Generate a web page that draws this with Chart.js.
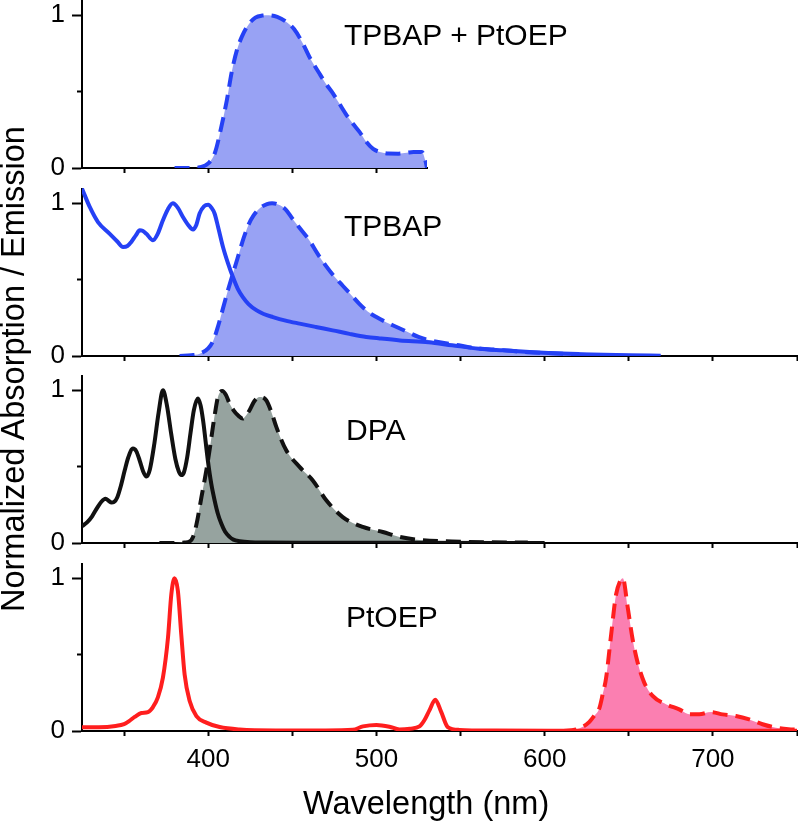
<!DOCTYPE html>
<html>
<head>
<meta charset="utf-8">
<script src="https://cdn.jsdelivr.net/npm/chart.js@4"></script>
<style>
  body { margin: 0; width: 798px; height: 821px; position: relative; background: #fff; overflow: hidden;
         font-family: "Liberation Sans", Arial, sans-serif; }
  canvas { position: absolute; left: 0; }
  .label { position: absolute; font-size: 30px; line-height: 30px; color: #000; white-space: nowrap; }
  .axis-title { position: absolute; font-size: 32.5px; line-height: 32.5px; color: #000; white-space: nowrap; }
</style>
</head>
<body>
<canvas id="mixChart" width="428" height="188" style="top:0"></canvas>
<canvas id="tpbapChart" width="798" height="188" style="top:188px"></canvas>
<canvas id="dpaChart" width="798" height="188" style="top:375px"></canvas>
<canvas id="ptoepChart" width="798" height="258" style="top:563px"></canvas>

<div class="label" style="left:344px;top:20px">TPBAP + PtOEP</div>
<div class="label" style="left:344px;top:211px">TPBAP</div>
<div class="label" style="left:346px;top:415px">DPA</div>
<div class="label" style="left:346px;top:602px">PtOEP</div>
<div class="axis-title" style="left:303px;top:787px">Wavelength (nm)</div>
<div class="axis-title" style="left:-3px;top:612px;transform-origin:0 0;transform:rotate(-90deg)">Normalized Absorption / Emission</div>

<script>
// Tick marks / labels
const xTickValues = [350, 400, 450, 500, 550, 600, 650, 700, 750];
const xTickLabels = ["", "400", "", "500", "", "600", "", "700", ""];
const yTickValues = [0, 1];
const yTickLabels = ["0", "1"];
const yMinorTicks = [0.5];

// TPBAP + PtOEP (upconverted emission)
const mixEmWl = [380, 390, 395, 400, 404, 408, 411, 414, 417, 420, 424, 428, 432, 436, 441, 446, 451, 456, 460, 466, 470, 474, 478, 482, 486, 490, 494, 498, 502, 507, 513, 518, 522, 527, 529, 530];
const mixEmVal = [0, 0, 0.005, 0.03, 0.1, 0.28, 0.44, 0.63, 0.77, 0.86, 0.94, 0.985, 0.998, 1.0, 0.99, 0.96, 0.91, 0.82, 0.73, 0.62, 0.55, 0.49, 0.42, 0.35, 0.29, 0.235, 0.17, 0.125, 0.105, 0.095, 0.094, 0.1, 0.105, 0.105, 0.05, 0];

// TPBAP
const tpbapAbsWl = [325, 329.6, 334.5, 341.5, 346, 349.4, 352, 354.3, 357, 359.3, 361, 363.3, 367.2, 370, 373.1, 376, 379, 382, 385, 388, 391, 393, 394.9, 397.5, 400, 402, 403.8, 406, 408.8, 411.7, 414.7, 417.6, 420.6, 424, 428.6, 433, 438.5, 446, 454.3, 464, 474, 484, 494, 502, 514, 531, 545, 561, 575, 591, 605, 621, 635, 650, 669];
const tpbapAbsVal = [1.096, 0.976, 0.877, 0.8, 0.75, 0.714, 0.72, 0.747, 0.79, 0.823, 0.82, 0.8, 0.758, 0.8, 0.889, 0.96, 1.0, 0.97, 0.91, 0.86, 0.828, 0.86, 0.933, 0.98, 0.99, 0.97, 0.933, 0.84, 0.714, 0.61, 0.517, 0.44, 0.386, 0.34, 0.3, 0.275, 0.255, 0.232, 0.212, 0.19, 0.168, 0.145, 0.125, 0.115, 0.102, 0.09, 0.07, 0.048, 0.037, 0.026, 0.018, 0.012, 0.008, 0.005, 0.002];
const tpbapEmWl = [383, 390, 395, 400, 403, 406, 409, 412, 415, 418, 421, 424, 427, 431, 435, 438, 442, 446, 450, 455, 460, 465, 470, 475, 480, 485, 490, 495, 500, 506, 512, 518, 525, 535, 549, 560, 573, 590, 601, 615, 630, 652];
const tpbapEmVal = [0, 0.005, 0.015, 0.05, 0.1, 0.2, 0.32, 0.44, 0.55, 0.66, 0.77, 0.86, 0.92, 0.97, 0.995, 1.0, 0.99, 0.96, 0.9, 0.83, 0.76, 0.67, 0.59, 0.52, 0.46, 0.4, 0.34, 0.29, 0.255, 0.22, 0.19, 0.16, 0.125, 0.095, 0.07, 0.05, 0.04, 0.025, 0.02, 0.012, 0.005, 0];

// DPA
const dpaAbsWl = [325, 328, 331, 334, 336.5, 339, 341, 342.5, 344, 346, 348, 350.4, 352.5, 355.3, 357.3, 359.3, 361.3, 363.3, 365.3, 368, 370.5, 373.1, 375.5, 378, 380.5, 382.5, 384, 385.5, 387.5, 389.5, 391.5, 393.9, 395.5, 397, 399.8, 401.8, 403.8, 405.8, 407.8, 410, 412.7, 415, 418.7, 425, 434, 460, 520, 600];
const dpaAbsVal = [0.11, 0.135, 0.175, 0.23, 0.27, 0.29, 0.275, 0.265, 0.268, 0.3, 0.37, 0.476, 0.56, 0.618, 0.6, 0.54, 0.47, 0.435, 0.48, 0.65, 0.85, 1.0, 0.9, 0.716, 0.55, 0.47, 0.445, 0.46, 0.56, 0.72, 0.87, 0.946, 0.9, 0.8, 0.541, 0.39, 0.28, 0.19, 0.127, 0.075, 0.04, 0.022, 0.012, 0.005, 0.003, 0.002, 0.001, 0];
const dpaEmWl = [371, 380, 386, 389, 391, 393, 396, 398.9, 401, 402.8, 404.5, 405.8, 408.4, 410.5, 412.7, 415, 417.7, 420.6, 422.5, 424.6, 427.5, 430.5, 434.5, 437.5, 440.5, 446.4, 454.3, 462.2, 470.2, 480, 491.9, 503.8, 513.7, 525.6, 545, 565, 590];
const dpaEmVal = [0, 0, 0.003, 0.01, 0.04, 0.12, 0.3, 0.476, 0.62, 0.76, 0.88, 0.956, 0.995, 0.97, 0.913, 0.87, 0.836, 0.815, 0.835, 0.869, 0.93, 0.956, 0.935, 0.86, 0.76, 0.607, 0.498, 0.41, 0.28, 0.17, 0.105, 0.072, 0.04, 0.02, 0.01, 0.005, 0.003];

// PtOEP
const ptAbsWl = [325, 335, 345, 350, 353, 356.3, 360.3, 364.2, 367.2, 370.1, 373.1, 376.1, 378.1, 380, 382, 384, 386, 389, 393, 398.9, 406.8, 418.7, 440, 470, 486, 492, 500, 507.8, 513.7, 520, 525.6, 528.5, 531.5, 535, 538.5, 542.4, 549.4, 570, 620, 680, 750];
const ptAbsVal = [0.025, 0.025, 0.033, 0.045, 0.065, 0.092, 0.118, 0.124, 0.157, 0.22, 0.35, 0.61, 0.895, 1.0, 0.917, 0.633, 0.37, 0.196, 0.098, 0.055, 0.026, 0.01, 0.004, 0.004, 0.008, 0.03, 0.04, 0.028, 0.01, 0.015, 0.03, 0.07, 0.135, 0.205, 0.125, 0.026, 0.007, 0.003, 0.002, 0.002, 0.002];
const ptEmWl = [610, 618.7, 623, 626.6, 629.5, 632.5, 634.5, 636.5, 639.5, 642.4, 644.8, 646.5, 649.3, 652.3, 655.3, 659.2, 664.2, 672.1, 680, 686, 691.9, 698.9, 705.8, 713.7, 721.6, 729.5, 737.5, 745, 750];
const ptEmVal = [0, 0.01, 0.03, 0.06, 0.1, 0.148, 0.24, 0.345, 0.629, 0.891, 0.98, 1.0, 0.815, 0.6, 0.447, 0.317, 0.23, 0.175, 0.142, 0.11, 0.11, 0.124, 0.109, 0.098, 0.076, 0.044, 0.022, 0.012, 0.01];

Chart.defaults.font.family = "'Liberation Sans', Arial, sans-serif";
Chart.defaults.color = "#000";

function toPoints(wl, val) {
  return wl.map((w, i) => ({ x: w, y: val[i] }));
}

function absorptionSet(wl, val, color) {
  return {
    data: toPoints(wl, val),
    borderColor: color,
    borderWidth: 4,
    fill: false,
    order: 0,
    yAxisID: "y",
  };
}

function emissionSet(wl, val, color, fillColor) {
  return {
    data: toPoints(wl, val),
    borderColor: color,
    backgroundColor: fillColor,
    borderWidth: 4,
    borderDash: [15, 8],
    fill: "origin",
    order: 1,
    yAxisID: "y",
  };
}

function panelOptions(xMax, xAxisHeight, showXLabels) {
  return {
    responsive: false,
    animation: false,
    layout: { padding: { right: 1 } },
    plugins: { legend: { display: false }, tooltip: { enabled: false } },
    elements: {
      point: { radius: 0 },
      line: { cubicInterpolationMode: "monotone" },
    },
    scales: {
      x: {
        type: "linear",
        min: 325,
        max: xMax,
        afterBuildTicks: (scale) => {
          scale.ticks = xTickValues.filter((v) => v <= xMax).map((v) => ({ value: v }));
        },
        afterFit: (scale) => {
          scale.height = xAxisHeight;
          scale.paddingLeft = 0;
          scale.paddingRight = 0;
        },
        border: { display: true, color: "#000", width: 2 },
        grid: { drawOnChartArea: false, drawTicks: true, tickLength: 5, tickWidth: 2, tickColor: "#000" },
        ticks: {
          autoSkip: false,
          maxRotation: 0,
          padding: 8,
          font: { size: 26 },
          callback: (v) => (showXLabels ? xTickLabels[xTickValues.indexOf(v)] : ""),
        },
      },
      y: {
        type: "linear",
        position: "left",
        min: 0,
        max: 1.1,
        weight: 0,
        afterBuildTicks: (scale) => {
          scale.ticks = yTickValues.map((v) => ({ value: v }));
        },
        afterFit: (scale) => {
          scale.width = 82;
          scale.paddingTop = 0;
          scale.paddingBottom = 0;
        },
        border: { display: true, color: "#000", width: 2 },
        grid: { drawOnChartArea: false, drawTicks: true, tickLength: 10, tickWidth: 2, tickColor: "#000" },
        ticks: {
          padding: 7,
          font: { size: 26 },
          callback: (v) => yTickLabels[yTickValues.indexOf(v)],
        },
      },
      // minor 0.5 tick, shorter mark
      yMinor: {
        type: "linear",
        axis: "y",
        position: "left",
        min: 0,
        max: 1.1,
        weight: -1,
        afterBuildTicks: (scale) => {
          scale.ticks = yMinorTicks.map((v) => ({ value: v }));
        },
        afterFit: (scale) => {
          scale.width = 0;
          scale.paddingTop = 0;
          scale.paddingBottom = 0;
        },
        border: { display: false },
        grid: { drawOnChartArea: false, drawTicks: true, tickLength: 5, tickWidth: 2, tickColor: "#000" },
        ticks: { padding: 0, callback: () => "" },
      },
    },
  };
}

const blue = "#2541f5";
const blueFill = "#98a2f4";

new Chart(document.getElementById("mixChart"), {
  type: "line",
  data: { datasets: [emissionSet(mixEmWl, mixEmVal, blue, blueFill)] },
  options: panelOptions(530, 20, false),
});

new Chart(document.getElementById("tpbapChart"), {
  type: "line",
  data: {
    datasets: [
      absorptionSet(tpbapAbsWl, tpbapAbsVal, blue),
      emissionSet(tpbapEmWl, tpbapEmVal, blue, blueFill),
    ],
  },
  options: panelOptions(750, 20, false),
});

new Chart(document.getElementById("dpaChart"), {
  type: "line",
  data: {
    datasets: [
      absorptionSet(dpaAbsWl, dpaAbsVal, "#111111"),
      emissionSet(dpaEmWl, dpaEmVal, "#111111", "#96a39f"),
    ],
  },
  options: panelOptions(750, 20, false),
});

new Chart(document.getElementById("ptoepChart"), {
  type: "line",
  data: {
    datasets: [
      absorptionSet(ptAbsWl, ptAbsVal, "#ff1e1e"),
      emissionSet(ptEmWl, ptEmVal, "#ff1e1e", "#fb7fb1"),
    ],
  },
  options: panelOptions(750, 90, true),
});
</script>
</body>
</html>
